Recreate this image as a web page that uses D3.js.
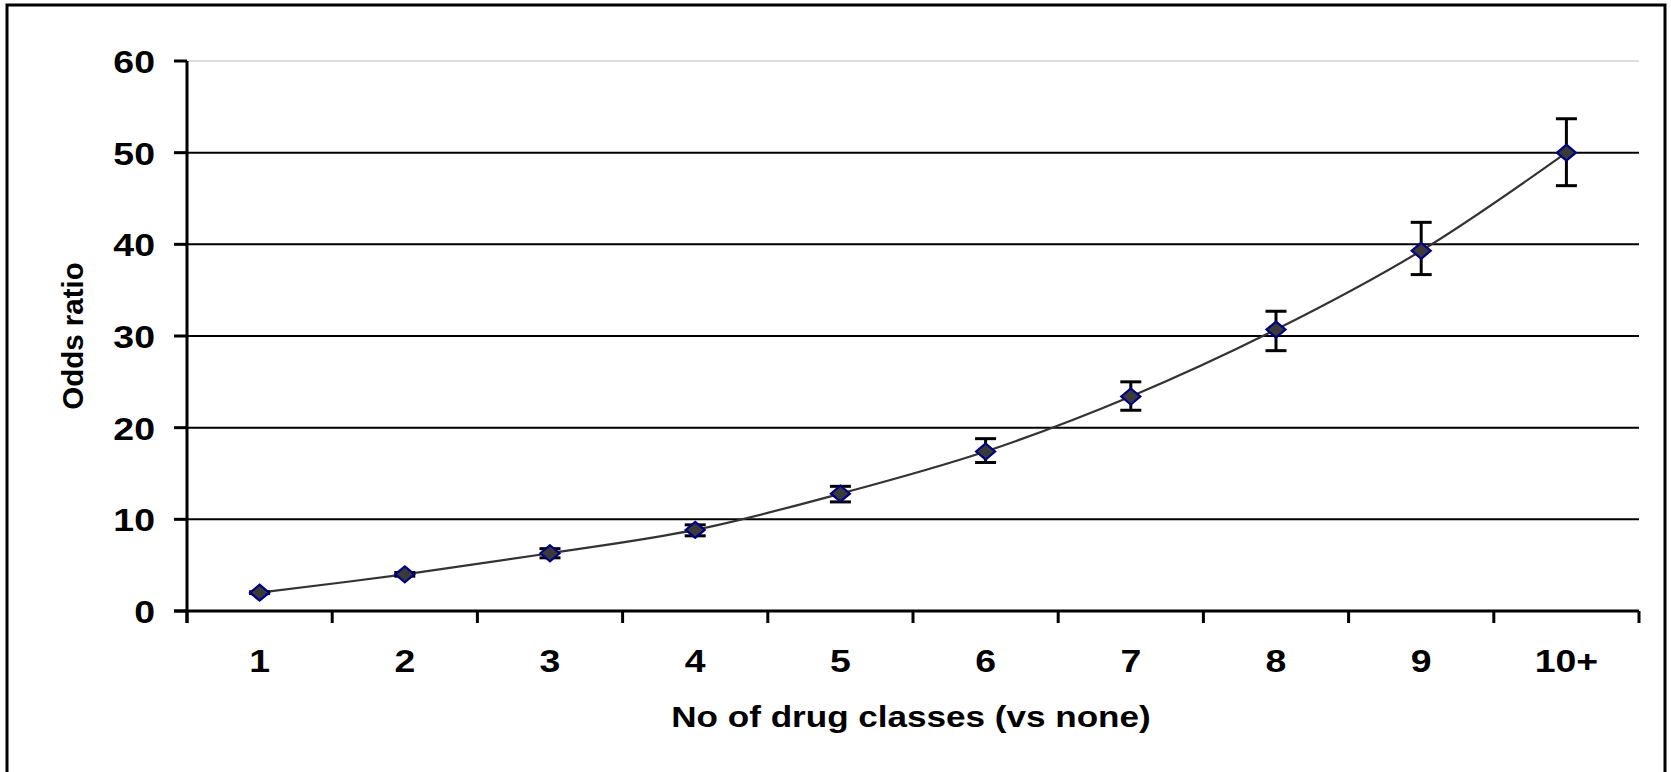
<!DOCTYPE html>
<html>
<head>
<meta charset="utf-8">
<script src="https://cdn.jsdelivr.net/npm/d3@7"></script>
<style>
  html, body { margin: 0; padding: 0; background: #fff; }
  svg text { font-family: "Liberation Sans", Arial, sans-serif; font-weight: bold; fill: #000; }
</style>
</head>
<body>
<div id="chart"></div>
<script>
// categories on the x axis
var categories = ['1', '2', '3', '4', '5', '6', '7', '8', '9', '10+']
// odds ratio and its confidence interval
var oddsRatio = [2.0, 4.0, 6.3, 8.85, 12.8, 17.4, 23.4, 30.7, 39.3, 50.0]
var ciLower = [1.9, 3.8, 5.8, 8.2, 11.9, 16.2, 21.9, 28.4, 36.7, 46.4]
var ciUpper = [2.1, 4.2, 6.8, 9.4, 13.6, 18.8, 25.0, 32.7, 42.4, 53.7]
var yTicks = [0, 10, 20, 30, 40, 50, 60]

var width = 1671
var height = 772
var stretch = 1.17 // the original picture is wider than tall

var svg = d3.select('#chart').append('svg')
  .attr('width', width)
  .attr('height', height)

// outer frame
svg.append('rect')
  .attr('x', 7).attr('y', 5)
  .attr('width', 1658).attr('height', 790)
  .attr('fill', 'none')
  .attr('stroke', '#000')
  .attr('stroke-width', 3)

var x = d3.scaleBand().domain(categories).range([187, 1639])
var y = d3.scaleLinear().domain([0, 60]).range([611, 61])

var data = categories.map(function (c, i) {
  return { x: c, y: oddsRatio[i], lo: ciLower[i], hi: ciUpper[i] }
})

// gridlines
svg.append('g').selectAll('line')
  .data(yTicks.filter(function (t) { return t > 0 }))
  .enter().append('line')
  .attr('x1', 187).attr('x2', 1639)
  .attr('y1', function (d) { return y(d) })
  .attr('y2', function (d) { return y(d) })
  .attr('stroke', function (d) { return d === 60 ? '#bbb' : '#000' })
  .attr('stroke-width', function (d) { return d === 60 ? 1 : 2 })

// y axis
var yAxis = svg.append('g')
yAxis.append('line')
  .attr('x1', 187).attr('x2', 187)
  .attr('y1', y(60)).attr('y2', y(0) + 12)
  .attr('stroke', '#000').attr('stroke-width', 3)
yAxis.selectAll('.tick')
  .data(yTicks)
  .enter().append('line')
  .attr('x1', 174).attr('x2', 187)
  .attr('y1', function (d) { return y(d) })
  .attr('y2', function (d) { return y(d) })
  .attr('stroke', '#000').attr('stroke-width', 3)
yAxis.selectAll('text')
  .data(yTicks)
  .enter().append('text')
  .attr('transform', function (d) { return 'translate(155,' + (y(d) + 12) + ') scale(' + stretch + ',1)' })
  .attr('text-anchor', 'end')
  .style('font-size', '32px')
  .text(function (d) { return d })

// x axis
var xAxis = svg.append('g')
xAxis.append('line')
  .attr('x1', 174).attr('x2', 1639)
  .attr('y1', y(0)).attr('y2', y(0))
  .attr('stroke', '#000').attr('stroke-width', 3)
var bounds = categories.map(function (c) { return x(c) }).concat([x.range()[1]])
xAxis.selectAll('.tick')
  .data(bounds)
  .enter().append('line')
  .attr('x1', function (d) { return d })
  .attr('x2', function (d) { return d })
  .attr('y1', y(0)).attr('y2', y(0) + 12)
  .attr('stroke', '#000').attr('stroke-width', 3)
xAxis.selectAll('text')
  .data(categories)
  .enter().append('text')
  .attr('transform', function (d) { return 'translate(' + (x(d) + x.bandwidth() / 2) + ',672) scale(' + stretch + ',1)' })
  .attr('text-anchor', 'middle')
  .style('font-size', '32px')
  .text(function (d) { return d })

// axis titles
svg.append('text')
  .attr('transform', 'translate(911,727) scale(' + stretch + ',1)')
  .attr('text-anchor', 'middle')
  .style('font-size', '30px')
  .text('No of drug classes (vs none)')

svg.append('text')
  .attr('transform', 'translate(83,336) rotate(-90)')
  .attr('text-anchor', 'middle')
  .style('font-size', '29.5px')
  .text('Odds ratio')

var cx = function (d) { return x(d.x) + x.bandwidth() / 2 }

// smoothed line
var line = d3.line()
  .x(cx)
  .y(function (d) { return y(d.y) })
  .curve(d3.curveCatmullRom.alpha(0.5))

svg.append('path')
  .datum(data)
  .attr('d', line)
  .attr('fill', 'none')
  .attr('stroke', '#333')
  .attr('stroke-width', 2.2)

// error bars
var bars = svg.append('g').selectAll('g')
  .data(data)
  .enter().append('g')
  .attr('stroke', '#000')
  .attr('stroke-width', 3)
bars.append('line')
  .attr('x1', cx).attr('x2', cx)
  .attr('y1', function (d) { return y(d.lo) })
  .attr('y2', function (d) { return y(d.hi) })
bars.append('line')
  .attr('x1', function (d) { return cx(d) - 10.5 })
  .attr('x2', function (d) { return cx(d) + 10.5 })
  .attr('y1', function (d) { return y(d.hi) })
  .attr('y2', function (d) { return y(d.hi) })
bars.append('line')
  .attr('x1', function (d) { return cx(d) - 10.5 })
  .attr('x2', function (d) { return cx(d) + 10.5 })
  .attr('y1', function (d) { return y(d.lo) })
  .attr('y2', function (d) { return y(d.lo) })

// diamond markers
svg.append('g').selectAll('path')
  .data(data)
  .enter().append('path')
  .attr('transform', function (d) { return 'translate(' + cx(d) + ',' + y(d.y) + ')' })
  .attr('d', 'M0,-8L9.5,0L0,8L-9.5,0Z')
  .attr('fill', '#3a3a3a')
  .attr('stroke', '#000080')
  .attr('stroke-width', 2.2)
</script>
</body>
</html>
